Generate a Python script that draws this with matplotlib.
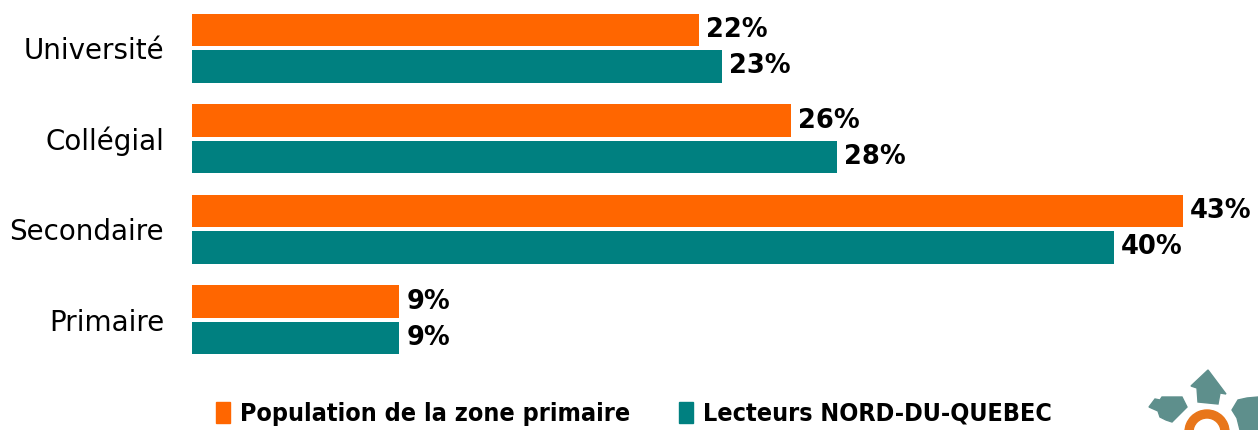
import matplotlib
matplotlib.use("Agg")
import matplotlib.pyplot as plt
from matplotlib.patches import Patch, Wedge, Polygon
import numpy as np

categories = ["Primaire", "Secondaire", "Collégial", "Université"]
population = [9, 43, 26, 22]
lecteurs = [9, 40, 28, 23]
series_names = ["Population de la zone primaire", "Lecteurs NORD-DU-QUEBEC"]
colors = ["#FF6600", "#008080"]

fig = plt.figure(figsize=(12.58, 4.30), dpi=100)
ax = fig.add_axes([192/1258, (430-365)/430, 1060/1258, 362/430])

y = np.arange(len(categories))
h = 0.36
off = 0.2
b1 = ax.barh(y + off, population, height=h, color=colors[0])
b2 = ax.barh(y - off, lecteurs, height=h, color=colors[1])

for bars, vals in ((b1, population), (b2, lecteurs)):
    for rect, v in zip(bars, vals):
        ax.text(rect.get_width() + 0.3, rect.get_y() + rect.get_height()/2,
                f"{v}%", va="center", ha="left", fontsize=18.5, fontweight="bold")

ax.set_xlim(0, 46)
ax.set_ylim(-0.5, 3.5)
ax.set_yticks(y)
ax.set_yticklabels(categories, fontsize=20)
ax.tick_params(axis="y", length=0, pad=20)
ax.set_xticks([])
for s in ax.spines.values():
    s.set_visible(False)

handles = [Patch(color=c) for c in colors]
leg = fig.legend(handles, series_names, loc="center", bbox_to_anchor=(634/1258, 1-414/430),
                 ncol=2, frameon=False, handlelength=0.55, handleheight=0.9,
                 handletextpad=0.4, columnspacing=1.95,
                 prop={"size": 18, "weight": "bold", "stretch": "condensed"})

# logo (partial, bottom right)
lax = fig.add_axes([0, 0, 1, 1], zorder=-1)
lax.set_xlim(0, 1258)
lax.set_ylim(430, 0)
lax.axis("off")
logo_teal = "#5E8F8C"
lax.add_patch(Wedge((1207, 432), 22, 0, 360, width=8, color="#E8761A"))
lax.add_patch(Polygon([(1208, 370), (1226, 394), (1220, 393), (1218, 404), (1198, 402),
                       (1197, 388), (1191, 386)], closed=True, color=logo_teal))
lax.add_patch(Polygon([(1149, 407), (1155, 399), (1160, 400), (1162, 397), (1182, 397),
                       (1187, 407), (1172, 422), (1166, 420), (1160, 417), (1158, 411)],
                      closed=True, color=logo_teal))
lax.add_patch(Polygon([(1232, 410), (1238, 400), (1247, 398), (1258, 397), (1258, 430),
                       (1240, 430), (1237, 418)], closed=True, color=logo_teal))

fig.savefig("out.png", dpi=100)
